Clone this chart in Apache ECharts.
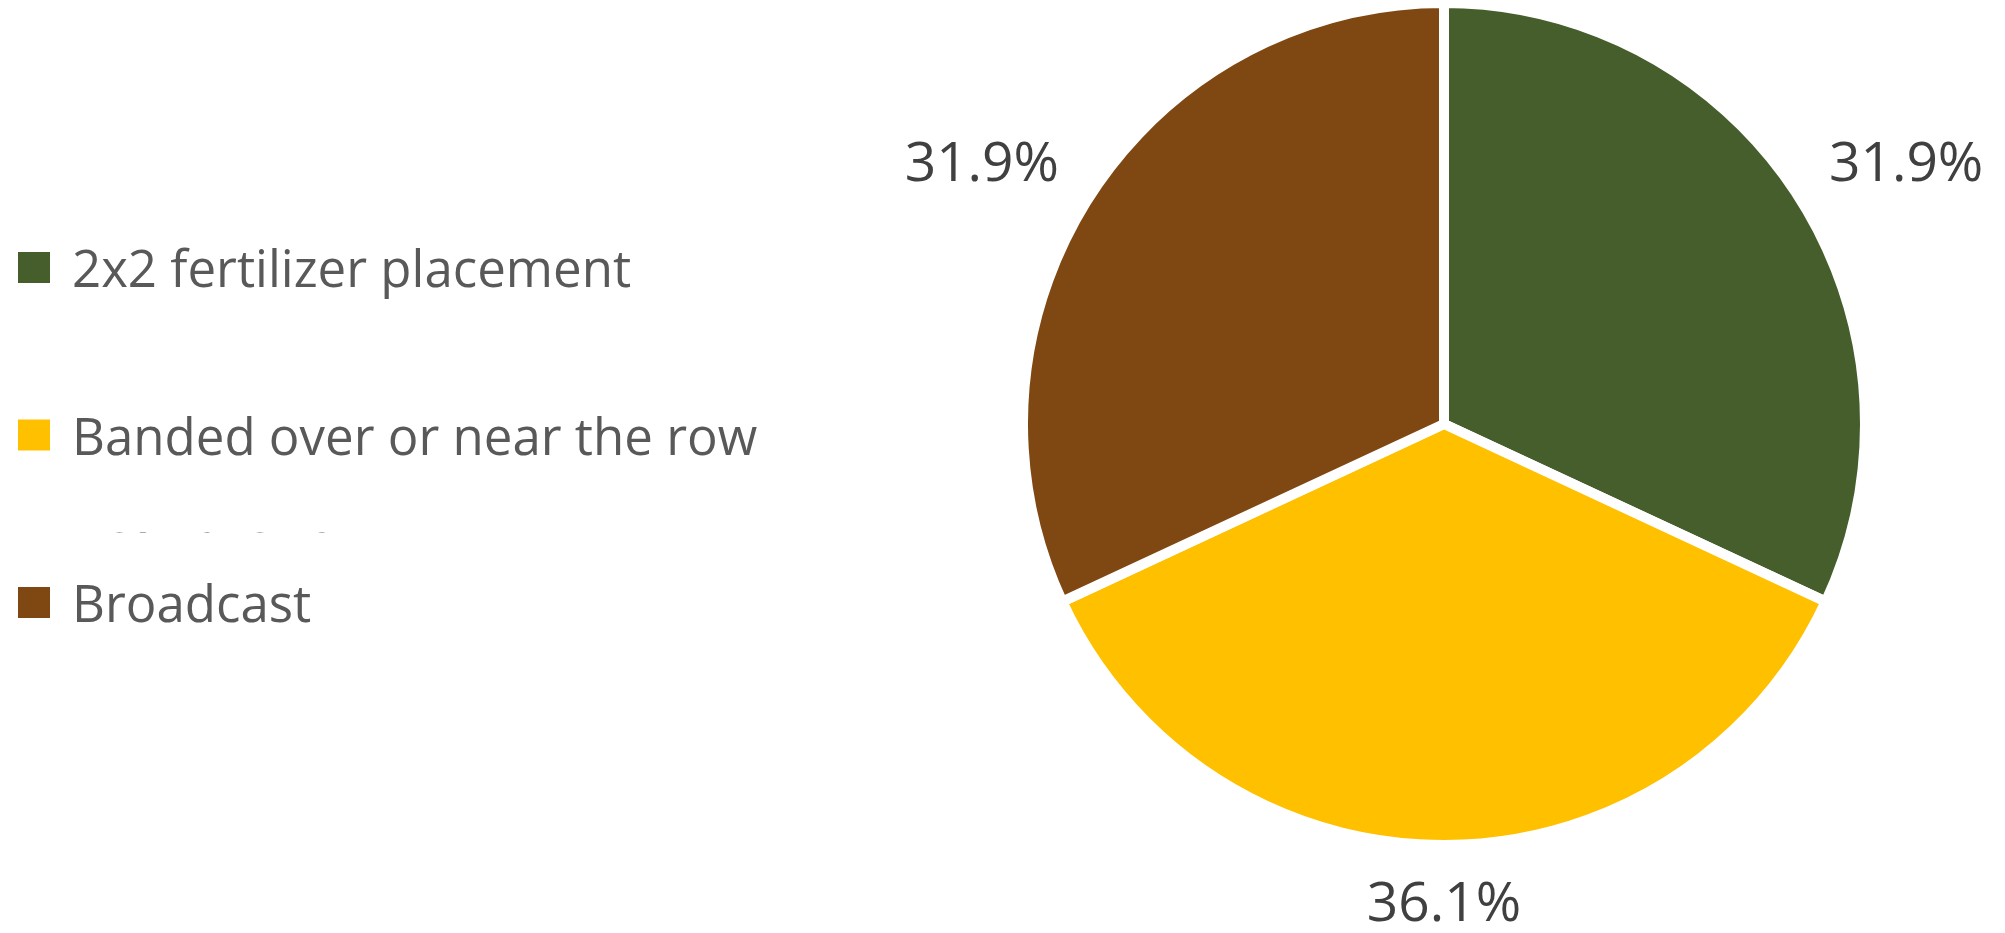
<!DOCTYPE html>
<html>
<head>
<meta charset="utf-8">
<script src="https://cdn.jsdelivr.net/npm/echarts@6/dist/echarts.min.js"></script>
<style>
  html, body { margin: 0; padding: 0; background: #fff; }
  #chart { width: 2005px; height: 933px; }
</style>
</head>
<body>
<div id="chart"></div>
<script>
// 类别与占比
var categories = ["2x2 fertilizer placement", "Banded over or near the row", "Broadcast"];
var shares = [31.9, 36.1, 31.9];
var colors = ["#465E2C", "#FFC000", "#7F4812"];

var CX = 1444, CY = 424, R = 421; // 白色描边占掉外圈 5px
var LABEL_R = 471;

var total = shares.reduce(function (a, b) { return a + b; }, 0);
// 扇区中线角度（从 12 点钟顺时针）
function midAngle(i) {
  var before = 0;
  for (var k = 0; k < i; k++) before += shares[k];
  return (before + shares[i] / 2) / total * Math.PI * 2;
}

var chart = echarts.init(document.getElementById("chart"));
var option = {
  animation: false,
  color: colors,
  legend: {
    orient: "vertical",
    left: 18,
    top: 246.5,
    padding: 0,
    itemWidth: 32,
    itemHeight: 41,
    itemGap: 115.5,
    // 色块只占上面 31px，让文字比色块略低
    icon: "path://M0,0H32V31H0Z M0,41",
    itemStyle: { borderWidth: 0, borderColor: "transparent" },
    textStyle: {
      fontFamily: "Open Sans",
      fontSize: 51,
      color: "#595959",
      lineHeight: 52,
      padding: [0, 0, 0, 17]
    },
    data: categories
  },
  // 原图里被裁掉的换行残影
  graphic: [
    {
      type: "text",
      left: 72,
      top: 492,
      z: 1,
      style: { text: "near the row", font: '51px "Open Sans"', fill: "#595959" }
    },
    {
      type: "rect",
      z: 2,
      shape: { x: 50, y: 440, width: 440, height: 92 },
      style: { fill: "#fff" }
    }
  ],
  series: [
    {
      type: "pie",
      center: [CX, CY],
      radius: R,
      startAngle: 90,
      clockwise: true,
      avoidLabelOverlap: false,
      itemStyle: { borderColor: "#fff", borderWidth: 10 },
      emphasis: { disabled: true },
      label: {
        show: true,
        position: "outside",
        fontFamily: "Open Sans",
        fontSize: 55,
        lineHeight: 55,
        color: "#404040",
        formatter: function (p) { return p.value.toFixed(1) + "%"; }
      },
      labelLine: { show: false },
      labelLayout: function (params) {
        var a = midAngle(params.dataIndex);
        var ux = Math.sin(a), uy = -Math.cos(a);
        var w = params.labelRect.width;
        return {
          x: CX + ux * (LABEL_R + w / 2),
          y: CY + uy * (LABEL_R + 10),
          align: "center",
          verticalAlign: "middle"
        };
      },
      data: categories.map(function (name, i) {
        return { name: name, value: shares[i] };
      })
    }
  ]
};
chart.setOption(option);
</script>
</body>
</html>
